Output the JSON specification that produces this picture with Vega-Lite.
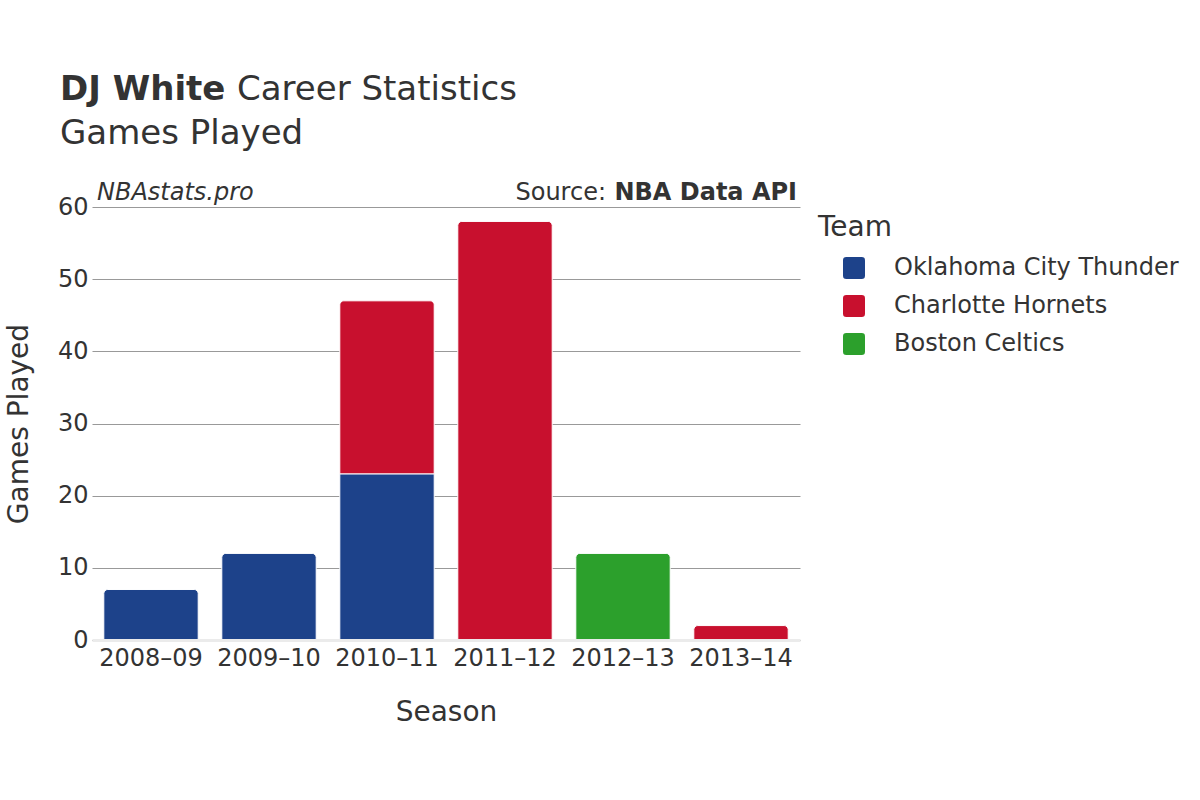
{
  "$schema": "https://vega.github.io/schema/vega-lite/v6.json",
  "autosize": {"type": "none"},
  "padding": {"left": 92, "top": 207, "right": 400, "bottom": 160},
  "width": 708,
  "height": 433,
  "background": "white",
  "config": {
    "font": "DejaVu Sans",
    "view": {"stroke": null},
    "text": {"font": "DejaVu Sans", "color": "#333333"}
  },
  "datasets": {
    "games": [
      {"season": "2008–09", "team": "Oklahoma City Thunder", "games": 7},
      {"season": "2009–10", "team": "Oklahoma City Thunder", "games": 12},
      {"season": "2010–11", "team": "Oklahoma City Thunder", "games": 23},
      {"season": "2010–11", "team": "Charlotte Hornets", "games": 24},
      {"season": "2011–12", "team": "Charlotte Hornets", "games": 58},
      {"season": "2012–13", "team": "Boston Celtics", "games": 12},
      {"season": "2013–14", "team": "Charlotte Hornets", "games": 2}
    ]
  },
  "layer": [
    {
      "data": {"name": "games"},
      "transform": [
        {"stack": "games", "groupby": ["season"], "sort": [{"field": "team", "order": "descending"}], "as": ["g0", "g1"]},
        {"filter": "!(datum.season == '2010–11' && datum.team == 'Oklahoma City Thunder')"}
      ],
      "mark": {"type": "bar", "cornerRadiusTopLeft": 4, "cornerRadiusTopRight": 4, "stroke": "white", "strokeWidth": 1},
      "encoding": {
        "x": {
          "field": "season", "type": "nominal", "title": "Season",
          "scale": {"paddingInner": 0.2, "paddingOuter": 0.1},
          "axis": {
            "labelAngle": 0, "labelFontSize": 24, "labelColor": "#333333", "labelPadding": 6,
            "ticks": false, "domain": true, "domainColor": "#ebebeb", "domainWidth": 3, "zindex": 1,
            "titleFontSize": 28, "titleFontWeight": "normal", "titleColor": "#333333", "titlePadding": 28
          }
        },
        "y": {
          "field": "g1", "type": "quantitative", "title": "Games Played",
          "scale": {"domain": [0, 60]},
          "axis": {
            "values": [0, 10, 20, 30, 40, 50, 60],
            "labelFontSize": 24, "labelColor": "#333333", "labelPadding": 4,
            "ticks": false, "domain": false, "grid": true, "gridColor": "#999999", "gridWidth": 1,
            "titleFontSize": 28, "titleFontWeight": "normal", "titleColor": "#333333", "titlePadding": 24
          }
        },
        "y2": {"field": "g0"},
        "color": {
          "field": "team", "type": "nominal", "title": "Team",
          "scale": {
            "domain": ["Oklahoma City Thunder", "Charlotte Hornets", "Boston Celtics"],
            "range": ["#1d428a", "#c8102e", "#2ca02c"]
          },
          "legend": {
            "orient": "right", "offset": 11, "padding": 7,
            "titleFontSize": 28, "titleFontWeight": "normal", "titleColor": "#333333", "titlePadding": 14,
            "labelFontSize": 24, "labelColor": "#333333", "labelOffset": 28, "labelLimit": 400,
            "symbolType": "M-0.7,-1L0.7,-1Q1,-1 1,-0.7L1,0.7Q1,1 0.7,1L-0.7,1Q-1,1 -1,0.7L-1,-0.7Q-1,-1 -0.7,-1Z",
            "symbolSize": 484, "symbolStrokeWidth": 0, "symbolOffset": 24, "rowPadding": 14
          }
        }
      }
    },
    {
      "data": {"name": "games"},
      "transform": [
        {"stack": "games", "groupby": ["season"], "sort": [{"field": "team", "order": "descending"}], "as": ["g0", "g1"]},
        {"filter": "datum.season == '2010–11' && datum.team == 'Oklahoma City Thunder'"}
      ],
      "mark": {"type": "bar", "stroke": "white", "strokeWidth": 1},
      "encoding": {
        "x": {"field": "season", "type": "nominal"},
        "y": {"field": "g1", "type": "quantitative"},
        "y2": {"field": "g0"},
        "color": {"field": "team", "type": "nominal"}
      }
    },
    {
      "data": {"values": [{"label": "DJ White"}]},
      "mark": {"type": "text", "align": "left", "baseline": "alphabetic", "fontSize": 34, "fontWeight": "bold", "font": "DejaVu Sans", "color": "#333333"},
      "encoding": {"text": {"field": "label"}, "x": {"value": -32}, "y": {"value": -107}}
    },
    {
      "data": {"values": [{"label": "Career Statistics"}]},
      "mark": {"type": "text", "align": "left", "baseline": "alphabetic", "fontSize": 34, "font": "DejaVu Sans", "color": "#333333"},
      "encoding": {"text": {"field": "label"}, "x": {"value": 145}, "y": {"value": -107}}
    },
    {
      "data": {"values": [{"label": "Games Played"}]},
      "mark": {"type": "text", "align": "left", "baseline": "alphabetic", "fontSize": 34, "font": "DejaVu Sans", "color": "#333333"},
      "encoding": {"text": {"field": "label"}, "x": {"value": -32}, "y": {"value": -63}}
    },
    {
      "data": {"values": [{"label": "NBAstats.pro"}]},
      "mark": {"type": "text", "align": "left", "baseline": "alphabetic", "fontSize": 24, "fontStyle": "italic", "font": "DejaVu Sans", "color": "#333333"},
      "encoding": {"text": {"field": "label"}, "x": {"value": 5}, "y": {"value": -7}}
    },
    {
      "data": {"values": [{"label": "NBA Data API"}]},
      "mark": {"type": "text", "align": "right", "baseline": "alphabetic", "fontSize": 24, "fontWeight": "bold", "font": "DejaVu Sans", "color": "#333333"},
      "encoding": {"text": {"field": "label"}, "x": {"value": 705}, "y": {"value": -7}}
    },
    {
      "data": {"values": [{"label": "Source:"}]},
      "mark": {"type": "text", "align": "right", "baseline": "alphabetic", "fontSize": 24, "font": "DejaVu Sans", "color": "#333333"},
      "encoding": {"text": {"field": "label"}, "x": {"value": 514}, "y": {"value": -7}}
    }
  ]
}
